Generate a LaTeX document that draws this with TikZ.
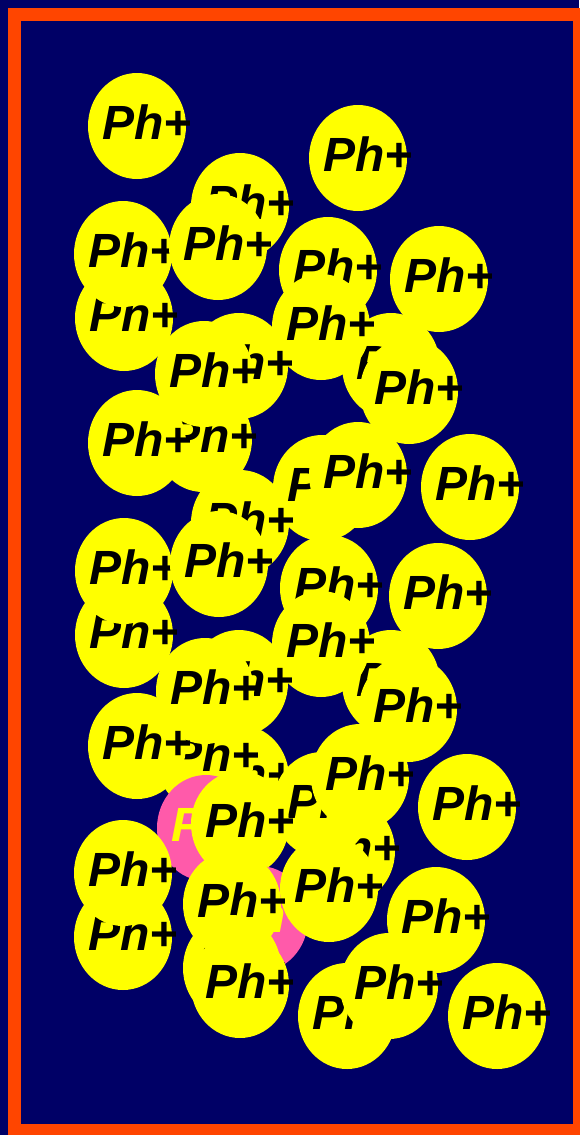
\documentclass[tikz,border=0pt]{standalone}
\usepackage{fontspec}
\setmainfont{Liberation Sans}
\usetikzlibrary{shapes.geometric}
\definecolor{bg}{HTML}{000066}
\definecolor{framec}{HTML}{FF4500}
\definecolor{ylw}{HTML}{FFFF00}
\definecolor{pnk}{HTML}{FF5AAA}
\tikzset{
  ball/.style={ellipse, minimum width=98pt, minimum height=106pt, inner sep=0pt, fill=ylw},
  lab/.style={font=\fontsize{48}{48}\selectfont\bfseries\itshape, inner sep=0pt, text=black, xshift=10pt, yshift=4pt},
  pball/.style={ball, fill=pnk},
  plab/.style={lab, text=ylw}
}
\newcommand\ph[3]{\node[ball] (#1) at (#2,#3) {}; \node[lab] (#1t) at (#1.center) {Ph+};}
\newcommand\pk[3]{\node[pball] (#1) at (#2,#3) {}; \node[plab] (#1t) at (#1.center) {Ph+};}
\begin{document}
\begin{tikzpicture}[x=1pt,y=-1pt]
\useasboundingbox (0,0) rectangle (579,1135);
\fill[bg] (0,0) rectangle (579,1135);
\draw[framec, line width=13pt] (14.5,14.5) rectangle (579.5,1130.5);
% top group
\ph{a1}{137}{126}
\ph{a2}{358}{158}
\ph{a3}{240}{206}
\ph{a8}{124}{318}
\ph{a4}{123}{254}
\ph{a5}{218}{247}
\ph{a6}{328}{270}
\ph{a7}{439}{279}
\ph{a12}{391}{366}
\ph{a13}{409}{391}
\ph{a9}{321}{327}
\ph{a10}{239}{366}
\ph{a15}{203}{439}
\ph{a11}{204}{374}
\ph{a14}{137}{443}
\ph{a16}{322}{488}
\ph{a17}{358}{475}
\ph{a18}{470}{487}
\ph{a19}{240}{523}
% middle group
\ph{b8}{124}{635}
\ph{b4}{124}{571}
\ph{b5}{219}{564}
\ph{b6}{329}{588}
\ph{b7}{438}{596}
\ph{b12}{391}{683}
\ph{b13}{408}{709}
\ph{b9}{321}{644}
\ph{b10}{239}{683}
\ph{b16}{240}{778}
\ph{b15}{205}{758}
\ph{b11}{205}{691}
\ph{b14}{137}{746}
% lower group
\pk{p1}{206}{828}
\ph{c4}{346}{851}
\ph{c2}{322}{805}
\ph{c3}{360}{777}
\ph{c18}{467}{807}
\ph{c1}{240}{824}
\pk{p2}{259}{919}
\ph{c5}{329}{889}
\ph{c14}{123}{937}
\ph{c13}{123}{873}
\ph{c6}{232}{904}
\ph{c8}{232}{968}
\ph{c7}{240}{985}
\ph{c11}{436}{920}
\ph{c9}{347}{1016}
\ph{c10}{389}{986}
\ph{c12}{497}{1016}
\end{tikzpicture}
\end{document}
